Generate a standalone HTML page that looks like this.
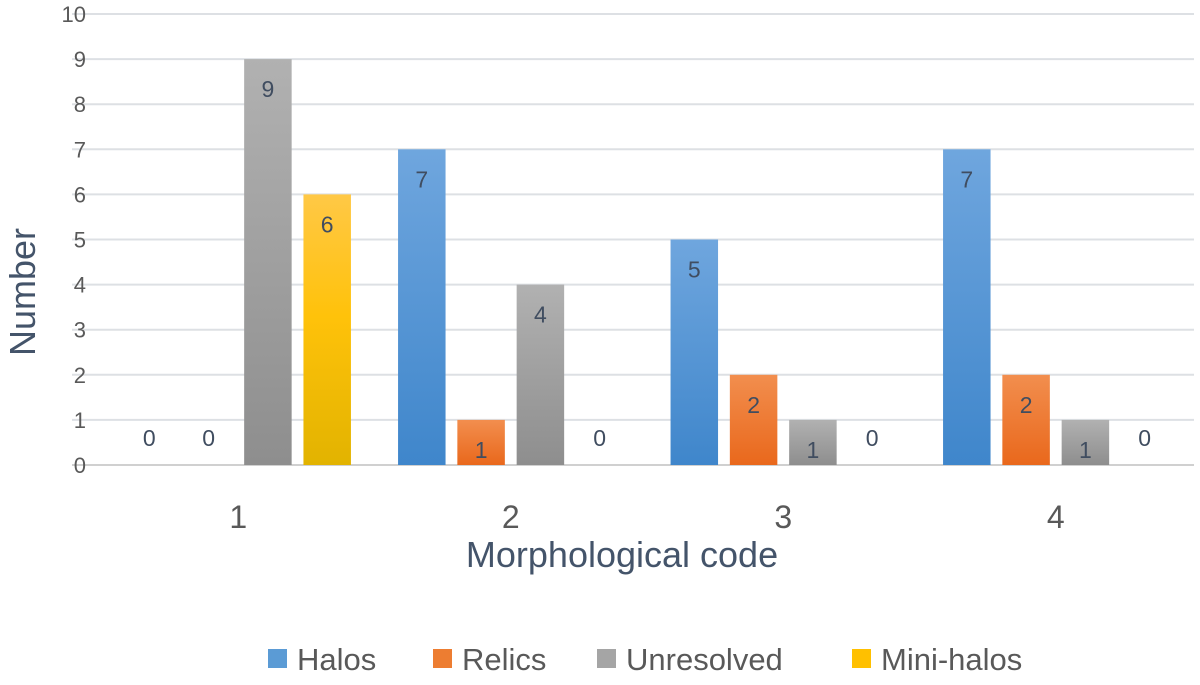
<!DOCTYPE html>
<html><head><meta charset="utf-8"><style>
body{margin:0;background:#fff;}
svg text{font-family:"Liberation Sans",sans-serif;}
</style></head><body>
<svg id="chart" width="1200" height="680">
<defs>
<linearGradient id="gH" x1="0" y1="0" x2="0" y2="1"><stop offset="0" stop-color="#6fa6de"/><stop offset="1" stop-color="#3f86cb"/></linearGradient>
<linearGradient id="gR" x1="0" y1="0" x2="0" y2="1"><stop offset="0" stop-color="#f28e4e"/><stop offset="1" stop-color="#e9681c"/></linearGradient>
<linearGradient id="gU" x1="0" y1="0" x2="0" y2="1"><stop offset="0" stop-color="#b1b1b1"/><stop offset="1" stop-color="#8e8e8e"/></linearGradient>
<linearGradient id="gM" x1="0" y1="0" x2="0" y2="1"><stop offset="0" stop-color="#ffc846"/><stop offset="0.45" stop-color="#ffc20a"/><stop offset="1" stop-color="#e2b300"/></linearGradient>
</defs>
<g id="grid"></g><g id="bars"></g><g id="labels"></g>
<text x="35" y="292" font-size="36" fill="#44546a" text-anchor="middle" transform="rotate(-90 35 292)">Number</text>
<text x="622" y="567" font-size="36" fill="#44546a" text-anchor="middle">Morphological code</text>
<g id="legend"></g>
</svg>
<script>
const categories=["1","2","3","4"];
const seriesNames=["Halos","Relics","Unresolved","Mini-halos"];
const halos=[0,7,5,7];
const relics=[0,1,2,2];
const unresolved=[9,4,1,1];
const miniHalos=[6,0,0,0];
const yTicks=[0,1,2,3,4,5,6,7,8,9,10];
const series=[halos,relics,unresolved,miniHalos];
const fills=["url(#gH)","url(#gR)","url(#gU)","url(#gM)"];
const legendColors=["#5b9bd5","#ed7d31","#a5a5a5","#ffc000"];
const NS="http://www.w3.org/2000/svg";
const pLeft=104,pRight=1194,pTop=14,pBottom=465;
const yScale=v=>pBottom-(v/10)*(pBottom-pTop);
const bandW=(pRight-pLeft)/categories.length;
const xc=i=>pLeft+bandW*(i+0.5);
const step=59.3,bw=47.5;
function mk(tag,attrs,parent,text){const e=document.createElementNS(NS,tag);for(const k in attrs)e.setAttribute(k,attrs[k]);if(text!==undefined)e.textContent=text;parent.appendChild(e);return e;}
const grid=document.getElementById('grid');
yTicks.forEach(t=>{
  const l=mk('line',{x1:pLeft-32,x2:pRight,y1:yScale(t),y2:yScale(t),stroke:t===0?'#d0d0d0':'#dde0e4','stroke-width':2},grid);
  
  
  const tx=mk('text',{x:86,y:yScale(t)+8,'font-size':22,fill:'#595959','text-anchor':'end'},grid,String(t));
  
  
});
categories.forEach((c,i)=>{
  const t=mk('text',{x:xc(i)-2,y:528,'font-size':32,fill:'#595959','text-anchor':'middle'},grid,c);
  
  
});
const bars=document.getElementById('bars'),labels=document.getElementById('labels');
series.forEach((s,si)=>{
  s.forEach((v,i)=>{
    const cx=xc(i)-2+(si-1.5)*step;
    const r=mk('rect',{x:cx-bw/2,y:yScale(v),width:bw,height:pBottom-yScale(v),fill:fills[si]},bars);
    
    
    const ly=v>0?yScale(v)+38:pBottom-19;
    const t=mk('text',{x:cx,y:ly,'font-size':23,fill:'#404d60','text-anchor':'middle'},labels,String(v));
    
    
  });
});
const lg=document.getElementById('legend');
const lx=[268,433,597,852];
seriesNames.forEach((n,i)=>{
  const g=mk('g',{},lg);
  
  
  mk('rect',{x:lx[i],y:649,width:19,height:19,fill:legendColors[i]},g);
  mk('text',{x:lx[i]+29,y:670,'font-size':31,fill:'#595959'},g,n);
});
</script>
</body></html>
